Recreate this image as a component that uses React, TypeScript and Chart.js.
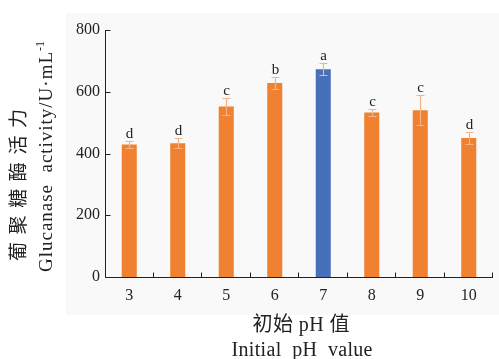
import React, { useEffect, useRef } from 'react';
import { Chart, registerables } from 'chart.js';

Chart.register(...registerables);

// ---- data ----
const categories = ['3', '4', '5', '6', '7', '8', '9', '10'];
const activity = [429, 433, 552, 628, 673, 533, 540, 450];
const errorSD = [10, 16, 27, 20, 19, 12, 49, 20];
const letters = ['d', 'd', 'c', 'b', 'a', 'c', 'c', 'd'];
const yTickValues = [0, 200, 400, 600, 800];
const highlightCategory = '7';

const yTitleCn = '葡聚糖酶活力';
const yTitleEn = 'Glucanase  activity/U·mL';
const yTitleSup = '-1';
const xTitleCn = '初始 pH 值';
const xTitleEn = 'Initial  pH  value';

// ---- styles ----
const SERIF = '"Liberation Serif", "Times New Roman", "Noto Sans CJK SC", serif';
const ORANGE = '#F08131';
const BLUE = '#4870B8';
const ERR = '#F5B386';
const INK = '#222222';

function drawSpaced(ctx: CanvasRenderingContext2D, text: string, startX: number, y: number, target: number) {
  const chars = Array.from(text);
  const widths = chars.map((c) => ctx.measureText(c).width);
  const natural = widths.reduce((a, b) => a + b, 0);
  const gap = chars.length > 1 ? (target - natural) / (chars.length - 1) : 0;
  let x = startX;
  chars.forEach((c, i) => {
    ctx.fillText(c, x, y);
    x += widths[i] + gap;
  });
  return x - gap;
}

const decor = {
  id: 'decor',
  beforeDraw(chart: any) {
    const ctx = chart.ctx as CanvasRenderingContext2D;
    ctx.save();
    ctx.fillStyle = '#f9f9f9';
    ctx.fillRect(66, 13, 433, 302);
    ctx.restore();
  },
  afterDatasetsDraw(chart: any) {
    const ctx = chart.ctx as CanvasRenderingContext2D;
    const { x, y } = chart.scales;
    ctx.save();
    activity.forEach((v, i) => {
      const px = Math.round(x.getPixelForValue(i)) + 0.5;
      const top = Math.round(y.getPixelForValue(v + errorSD[i])) + 0.5;
      const bot = Math.round(y.getPixelForValue(v - errorSD[i])) + 0.5;
      ctx.strokeStyle = ERR;
      ctx.lineWidth = 1.2;
      ctx.beginPath();
      ctx.moveTo(px, top);
      ctx.lineTo(px, bot);
      ctx.moveTo(px - 4, top);
      ctx.lineTo(px + 4, top);
      ctx.moveTo(px - 4, bot);
      ctx.lineTo(px + 4, bot);
      ctx.stroke();
      ctx.fillStyle = INK;
      ctx.font = `15px ${SERIF}`;
      ctx.textAlign = 'center';
      ctx.textBaseline = 'alphabetic';
      ctx.fillText(letters[i], px, top - 3.5);
    });
    ctx.restore();
  },
  afterDraw(chart: any) {
    const ctx = chart.ctx as CanvasRenderingContext2D;
    const { y } = chart.scales;
    const area = chart.chartArea;
    const L = Math.round(area.left) + 0.5;
    const B = Math.round(area.bottom) + 0.5;
    const R = Math.round(area.right);
    const T = Math.round(area.top);
    ctx.save();
    ctx.strokeStyle = INK;
    ctx.lineWidth = 1;
    ctx.beginPath();
    ctx.moveTo(L, T);
    ctx.lineTo(L, B);
    ctx.lineTo(R, B);
    yTickValues.forEach((v) => {
      const py = Math.round(y.getPixelForValue(v)) + 0.5;
      ctx.moveTo(L, py);
      ctx.lineTo(L + 5, py);
    });
    const n = categories.length;
    for (let i = 1; i <= n; i++) {
      const px = Math.round(area.left + (i * (area.right - area.left)) / n) - 0.5;
      ctx.moveTo(px, B);
      ctx.lineTo(px, B - 5);
    }
    ctx.stroke();

    ctx.fillStyle = INK;
    ctx.textBaseline = 'alphabetic';
    ctx.textAlign = 'left';

    // x titles
    ctx.font = `20px ${SERIF}`;
    {
      const w = 97;
      drawSpaced(ctx, xTitleCn, 301 - w / 2, 331, w);
      const w2 = 141;
      drawSpaced(ctx, xTitleEn, 302 - w2 / 2, 356, w2);
    }

    // y title, Chinese line
    ctx.save();
    ctx.translate(20, 185);
    ctx.rotate(-Math.PI / 2);
    ctx.font = `19px ${SERIF}`;
    ctx.textBaseline = 'middle';
    drawSpaced(ctx, yTitleCn, -76, 0, 152);
    ctx.restore();

    // y title, English line with superscript
    ctx.save();
    ctx.translate(52, 156);
    ctx.rotate(-Math.PI / 2);
    ctx.font = `19px ${SERIF}`;
    ctx.textBaseline = 'alphabetic';
    const supW = 11;
    const mainTarget = 232 - supW - 1;
    const end = drawSpaced(ctx, yTitleEn, -116, 0, mainTarget);
    ctx.font = `12px ${SERIF}`;
    ctx.fillText(yTitleSup, end + 1, -8);
    ctx.restore();

    ctx.restore();
  },
};

export default function App() {
  const ref = useRef<HTMLCanvasElement | null>(null);
  useEffect(() => {
    if (!ref.current) return;
    const chart = new Chart(ref.current, {
      type: 'bar',
      data: {
        labels: categories,
        datasets: [
          {
            data: activity,
            backgroundColor: categories.map((c) => (c === highlightCategory ? BLUE : ORANGE)),
            barPercentage: 0.31,
            categoryPercentage: 1,
          },
        ],
      },
      options: {
        responsive: false,
        animation: false,
        devicePixelRatio: 1,
        layout: { padding: { top: 30, right: 6, left: 0, bottom: 0 } },
        plugins: {
          legend: { display: false },
          tooltip: { enabled: false },
          title: { display: false },
        },
        scales: {
          x: {
            offset: true,
            grid: { display: false, drawTicks: false },
            border: { display: false },
            ticks: { font: { family: SERIF, size: 16 }, color: INK, padding: 9 },
            afterFit(s: any) {
              s.height = 82;
            },
          },
          y: {
            min: 0,
            max: 800,
            grid: { display: false, drawTicks: false },
            border: { display: false },
            ticks: { font: { family: SERIF, size: 16 }, color: INK, padding: 5 },
            afterBuildTicks(s: any) {
              s.ticks = yTickValues.map((v) => ({ value: v }));
            },
            afterFit(s: any) {
              s.width = 105;
            },
          },
        },
      },
      plugins: [decor],
    } as any);
    return () => chart.destroy();
  }, []);
  return (
    <div style={{ position: 'absolute', left: 0, top: 0, width: 499, height: 359, background: '#ffffff' }}>
      <canvas ref={ref} width={499} height={359} style={{ display: 'block' }} />
    </div>
  );
}
